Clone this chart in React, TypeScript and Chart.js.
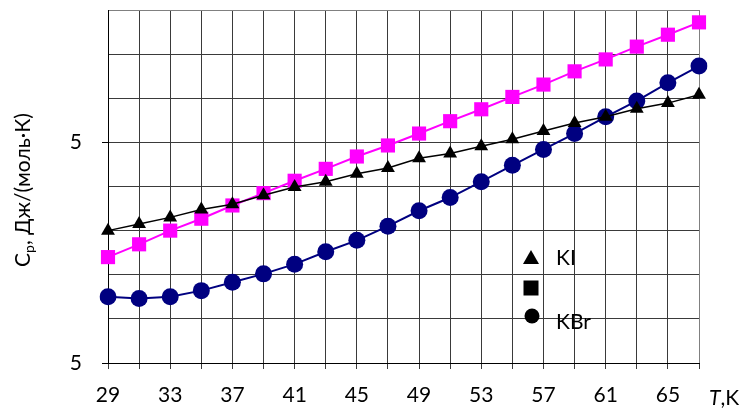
import React, { useEffect, useRef } from 'react';
import { Chart, registerables } from 'chart.js';

Chart.register(...registerables);

const temperatures = [29, 31, 33, 35, 37, 39, 41, 43, 45, 47, 49, 51, 53, 55, 57, 59, 61, 63, 65, 67];
const kiValues = [3.0, 3.15, 3.3, 3.48, 3.6, 3.8, 3.99, 4.11, 4.29, 4.42, 4.64, 4.75, 4.91, 5.07, 5.26, 5.44, 5.58, 5.76, 5.89, 6.08];
const middleValues = [2.4, 2.69, 3.0, 3.27, 3.57, 3.85, 4.13, 4.4, 4.68, 4.93, 5.2, 5.48, 5.75, 6.03, 6.31, 6.61, 6.88, 7.17, 7.44, 7.72];
const kbrValues = [1.5, 1.46, 1.5, 1.64, 1.83, 2.02, 2.24, 2.52, 2.78, 3.1, 3.45, 3.75, 4.11, 4.48, 4.84, 5.2, 5.58, 5.94, 6.35, 6.73];
const xTickLabels = ['29', '33', '37', '41', '45', '49', '53', '57', '61', '65'];
const yTickValues = [0, 5];
const yTickText = '5';
const legendLabels = ['KI', '', 'KBr'];

const FONT = 'Lato, "Open Sans", "DejaVu Sans", sans-serif';

const overlayPlugin = {
  id: 'overlay',
  afterDraw(chart: any) {
    const ctx = chart.ctx as CanvasRenderingContext2D;
    ctx.save();
    ctx.fillStyle = '#000';
    ctx.textBaseline = 'alphabetic';
    // Y-axis title: C_p, Дж/(моль·K)
    ctx.save();
    ctx.translate(30, 190);
    ctx.rotate(-Math.PI / 2);
    const big = `21px ${FONT}`;
    const small = `14px ${FONT}`;
    ctx.font = big;
    const wC = ctx.measureText('C').width;
    const rest = ', Дж/(моль·К)';
    const wRest = ctx.measureText(rest).width;
    ctx.font = small;
    const wP = ctx.measureText('p').width;
    const total = wC + wP + wRest;
    let x0 = -total / 2;
    ctx.font = big;
    ctx.fillText('C', x0, 0);
    x0 += wC;
    ctx.font = small;
    ctx.fillText('p', x0, 4);
    x0 += wP;
    ctx.font = big;
    ctx.fillText(rest, x0, 0);
    ctx.restore();

    // X-axis title T,K
    ctx.font = `italic 21px ${FONT}`;
    ctx.textBaseline = 'middle';
    const wT = ctx.measureText('T').width;
    ctx.fillText('T', 709, 398);
    ctx.font = `21px ${FONT}`;
    ctx.fillText(',K', 709 + wT, 398);

    // Legend
    const lx = 531;
    const rows = [258, 288, 316];
    ctx.beginPath();
    ctx.moveTo(lx, rows[0] - 8);
    ctx.lineTo(lx + 8, rows[0] + 6);
    ctx.lineTo(lx - 8, rows[0] + 6);
    ctx.closePath();
    ctx.fill();
    ctx.fillRect(lx - 7.5, rows[1] - 7.5, 15, 15);
    ctx.beginPath();
    ctx.arc(lx + 1, rows[2], 7.5, 0, Math.PI * 2);
    ctx.fill();
    ctx.font = `21px ${FONT}`;
    ctx.textBaseline = 'middle';
    ctx.fillText(legendLabels[0], 556, 258);
    if (legendLabels[1]) ctx.fillText(legendLabels[1], 556, 288);
    ctx.fillText(legendLabels[2], 556, 322);
    ctx.restore();
  },
};

export default function App() {
  const canvasRef = useRef<HTMLCanvasElement | null>(null);

  useEffect(() => {
    const canvas = canvasRef.current;
    if (!canvas) return;
    const lastIdx = temperatures.length - 1;
    const chart = new Chart(canvas, {
      type: 'line',
      data: {
        labels: temperatures.map(String),
        datasets: [
          {
            label: 'KI',
            data: kiValues,
            borderColor: '#000000',
            backgroundColor: '#000000',
            borderWidth: 1.5,
            pointStyle: 'triangle',
            pointRadius: 8,
            pointBorderWidth: 0,
            order: 1,
          },
          {
            label: '',
            data: middleValues,
            borderColor: '#FF00FF',
            backgroundColor: '#FF00FF',
            borderWidth: 2,
            pointStyle: 'rect',
            pointRadius: 10,
            pointBorderWidth: 0,
            order: 2,
          },
          {
            label: 'KBr',
            data: kbrValues,
            borderColor: '#000080',
            backgroundColor: '#000080',
            borderWidth: 2,
            pointStyle: 'circle',
            pointRadius: 8.5,
            pointBorderWidth: 0,
            order: 3,
          },
        ],
      },
      options: {
        responsive: false,
        animation: false,
        events: [],
        layout: { padding: { top: 7, right: 42, left: 0, bottom: 0 } },
        plugins: {
          legend: { display: false },
          tooltip: { enabled: false },
          title: { display: false },
        },
        scales: {
          x: {
            type: 'category',
            offset: false,
            grid: {
              color: (c: any) => (c.index === lastIdx ? '#808080' : '#3a3a3a'),
              lineWidth: 1,
              tickLength: 6,
              tickColor: '#3a3a3a',
            },
            border: { color: '#000', width: 1 },
            ticks: {
              autoSkip: false,
              maxRotation: 0,
              padding: 14,
              color: '#000',
              font: { family: FONT, size: 21 },
              callback: (_v: any, i: number) =>
                xTickLabels.includes(String(temperatures[i])) ? String(temperatures[i]) : '',
            },
            afterFit: (s: any) => {
              s.height = 54;
              s.paddingLeft = 0;
              s.paddingRight = 0;
            },
          },
          y: {
            min: 0,
            max: 8,
            grid: {
              color: (c: any) => (c.tick && c.tick.value === 8 ? '#808080' : '#3a3a3a'),
              lineWidth: 1,
              tickLength: 6,
              tickColor: (c: any) => (c.tick && yTickValues.includes(c.tick.value) ? '#000' : 'rgba(0,0,0,0)'),
            },
            border: { color: '#000', width: 1 },
            ticks: {
              stepSize: 1,
              padding: 20,
              color: '#000',
              font: { family: FONT, size: 21 },
              callback: (v: any) => (yTickValues.includes(Number(v)) ? yTickText : ''),
            },
            afterFit: (s: any) => {
              s.width = 108;
              s.paddingTop = 0;
              s.paddingBottom = 0;
            },
          },
        },
      },
      plugins: [overlayPlugin],
    });
    return () => chart.destroy();
  }, []);

  return (
    <div style={{ position: 'fixed', left: 0, top: 0, width: 741, height: 417, background: '#fff' }}>
      <canvas ref={canvasRef} width={741} height={417} style={{ display: 'block' }} />
    </div>
  );
}
